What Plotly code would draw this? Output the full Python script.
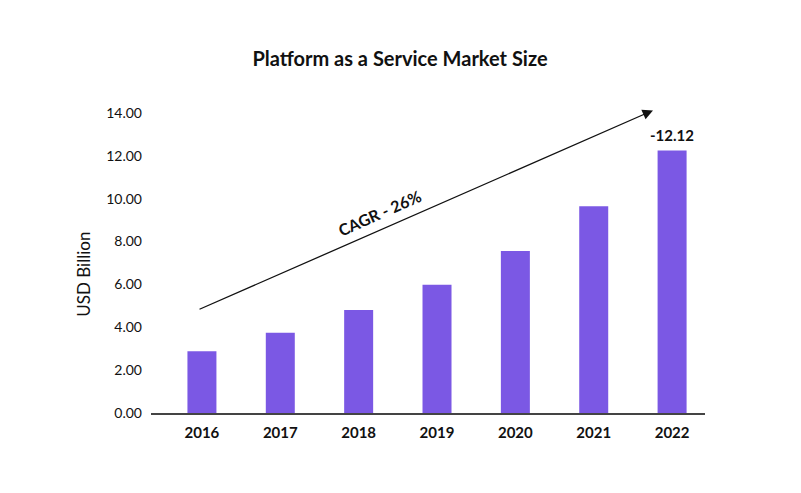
import plotly.graph_objects as go

years = ["2016", "2017", "2018", "2019", "2020", "2021", "2022"]
values = [2.88, 3.74, 4.81, 5.98, 7.56, 9.65, 12.25]
last_bar_label = "-12.12"
y_ticks = [0, 2, 4, 6, 8, 10, 12, 14]
y_tick_text = ["0.00", "2.00", "4.00", "6.00", "8.00", "10.00", "12.00", "14.00"]
title_text = "Platform as a Service Market Size"
y_title = "USD Billion"
cagr_text = "CAGR - 26%"
arrow_start = (-0.05, 4.81)
arrow_end = (5.756, 14.12)

FONT = "Lato"
BAR_COLOR = "#7B58E4"
OFF = 8  # page body margin offset

W, H = 801, 493
L, R = 151 - OFF, W - (705 - OFF)
T, B = 113 - OFF, H - (413.5 - OFF)
PH = H - T - B
PW = W - L - R

fig = go.Figure()
fig.add_trace(go.Bar(
    x=list(range(len(years))), y=values,
    marker=dict(color=BAR_COLOR, line=dict(width=0)),
    width=0.37,
    cliponaxis=False,
))

fig.update_layout(
    width=W, height=H,
    paper_bgcolor="white", plot_bgcolor="white",
    margin=dict(l=L, r=R, t=T, b=B),
    showlegend=False,
    font=dict(family=FONT, color="#111111"),
    title=dict(text=title_text, x=(400 - OFF) / W, xanchor="center", y=1 - (59 - OFF) / H, yanchor="middle",
               font=dict(family=FONT, size=20, color="#111111", weight="bold")),
    xaxis=dict(
        range=[-0.65, 6.42],
        tickmode="array", tickvals=list(range(len(years))), ticktext=years,
        showline=True, linecolor="#444444", linewidth=1.5,
        showgrid=False, zeroline=False, ticks="",
        tickfont=dict(family=FONT, size=15, color="#111111", weight="bold"),
        ticklabelstandoff=5,
        fixedrange=True,
    ),
    yaxis=dict(
        range=[0, 14],
        tickmode="array", tickvals=y_ticks, ticktext=y_tick_text,
        showline=False, showgrid=False, zeroline=False, ticks="",
        tickfont=dict(family=FONT, size=14, color="#111111"),
        ticklabelstandoff=8,
        fixedrange=True,
    ),
    annotations=[
        dict(x=arrow_end[0], y=arrow_end[1], ax=arrow_start[0], ay=arrow_start[1],
             xref="x", yref="y", axref="x", ayref="y", text="",
             showarrow=True, arrowhead=2, arrowsize=1.6, arrowwidth=1.3, arrowcolor="#111111"),
        dict(x=2.272, y=9.37, xref="x", yref="y", text=cagr_text, showarrow=False,
             textangle=-24, font=dict(family=FONT, size=16, color="#111111", weight="bold")),
        dict(x=len(years) - 1, y=values[-1], xref="x", yref="y", text=last_bar_label,
             showarrow=False, xanchor="center", yanchor="bottom", yshift=5,
             font=dict(family=FONT, size=15, color="#111111", weight="bold")),
        dict(x=(84 - 151) / PW, y=(413.5 - 275) / PH, xref="paper", yref="paper", text=y_title,
             showarrow=False, textangle=-90, xanchor="center", yanchor="middle",
             font=dict(family=FONT, size=17, color="#111111")),
    ],
)

fig.write_html("out.html")
